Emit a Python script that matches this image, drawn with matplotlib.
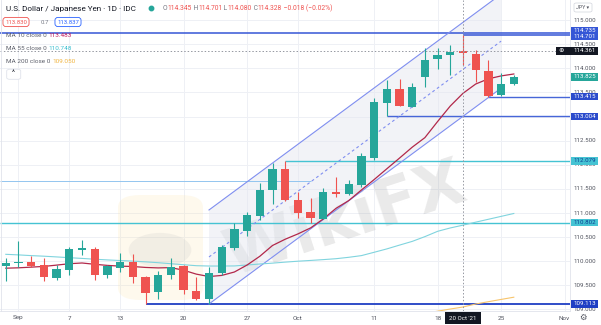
import numpy as np
import matplotlib
matplotlib.use("Agg")
import matplotlib.pyplot as plt
from matplotlib.patches import Rectangle, FancyBboxPatch, Polygon, Circle

plt.rcParams['font.family'] = ['Roboto', 'DejaVu Sans']

# ---------------- data ----------------
dates = ["2021-08-31", "2021-09-01", "2021-09-02", "2021-09-03", "2021-09-06", "2021-09-07",
         "2021-09-08", "2021-09-09", "2021-09-10", "2021-09-13", "2021-09-14", "2021-09-15",
         "2021-09-16", "2021-09-17", "2021-09-20", "2021-09-21", "2021-09-22", "2021-09-23",
         "2021-09-24", "2021-09-27", "2021-09-28", "2021-09-29", "2021-09-30", "2021-10-01",
         "2021-10-04", "2021-10-05", "2021-10-06", "2021-10-07", "2021-10-08", "2021-10-11",
         "2021-10-12", "2021-10-13", "2021-10-14", "2021-10-15", "2021-10-18", "2021-10-19",
         "2021-10-20", "2021-10-21", "2021-10-22", "2021-10-25", "2021-10-26"]
opens = [109.900, 109.956, 109.990, 109.915, 109.651, 109.817, 110.236, 110.253, 109.714, 109.853,
         109.990, 109.678, 109.361, 109.714, 109.906, 109.382, 109.216, 109.761, 110.280, 110.626,
         110.948, 111.467, 111.913, 111.270, 111.027, 110.886, 111.429, 111.394, 111.581, 112.135,
         113.288, 113.573, 113.205, 113.815, 114.189, 114.284, 114.345, 114.300, 113.952, 113.448,
         113.670]
highs = [110.066, 110.419, 110.108, 110.066, 109.921, 110.301, 110.440, 110.301, 109.921, 110.170,
         110.149, 109.703, 109.797, 110.073, 109.921, 109.678, 109.886, 110.336, 110.786, 111.027,
         111.616, 112.031, 112.079, 111.442, 111.305, 111.512, 111.757, 111.685, 112.238, 113.380,
         113.759, 113.774, 113.703, 114.429, 114.417, 114.485, 114.701, 114.382, 114.174, 113.898,
         113.863]
lows = [109.589, 109.886, 109.886, 109.589, 109.610, 109.714, 110.129, 109.610, 109.651, 109.782,
        109.548, 109.113, 109.216, 109.624, 109.319, 109.195, 109.120, 109.714, 110.232, 110.523,
        110.855, 111.187, 111.259, 110.890, 110.802, 110.869, 111.342, 111.373, 111.539, 112.099,
        113.004, 113.210, 113.189, 113.614, 113.981, 113.863, 114.080, 113.724, 113.415, 113.427,
        113.655]
closes = [109.956, 109.990, 109.906, 109.678, 109.838, 110.253, 110.247, 109.707, 109.900, 109.983,
          109.662, 109.346, 109.714, 109.886, 109.402, 109.216, 109.761, 110.288, 110.668, 110.958,
          111.467, 111.913, 111.280, 110.994, 110.890, 111.429, 111.394, 111.595, 112.189, 113.297,
          113.573, 113.220, 113.608, 114.174, 114.278, 114.346, 114.328, 113.967, 113.427, 113.670,
          113.825]
ma10 = [109.855, 109.863, 109.877, 109.892, 109.919, 109.948, 109.963, 109.936, 109.913, 109.898,
        109.890, 109.871, 109.861, 109.867, 109.813, 109.732, 109.682, 109.705, 109.776, 109.921,
        110.102, 110.326, 110.456, 110.566, 110.691, 110.877, 111.097, 111.257, 111.477, 111.693,
        111.917, 112.139, 112.365, 112.564, 112.898, 113.220, 113.483, 113.676, 113.784, 113.844,
        113.884]
ma55 = [110.143, 110.131, 110.116, 110.104, 110.089, 110.073, 110.058, 110.041, 110.027, 110.014,
        110.002, 109.987, 109.969, 109.948, 109.927, 109.907, 109.900, 109.900, 109.902, 109.921,
        109.942, 109.960, 109.981, 110.000, 110.016, 110.033, 110.052, 110.081, 110.116, 110.185,
        110.255, 110.334, 110.411, 110.510, 110.620, 110.690, 110.748, 110.810, 110.870, 110.930,
        110.990]
ma200_dates = ["2021-10-15", "2021-10-18", "2021-10-19", "2021-10-20", "2021-10-21", "2021-10-22",
               "2021-10-25", "2021-10-26"]
ma200 = [108.920, 108.963, 109.008, 109.050, 109.112, 109.160, 109.207, 109.253]

level_prices = [114.735, 114.701, 113.415, 113.004, 112.079, 111.664, 110.802, 109.113]
level_from = [None, "2021-10-20", "2021-10-22", "2021-10-12", "2021-09-30", None, None, "2021-09-15"]
level_to = [None, None, None, None, None, "2021-10-04", None, None]

channel_dates = ["2021-09-22", "2021-10-25"]
channel_lower = [109.113, 113.590]
channel_width = 1.95

tick_dates = ["2021-09-01", "2021-09-07", "2021-09-13", "2021-09-20", "2021-09-27", "2021-10-01",
              "2021-10-11", "2021-10-18", "2021-10-25", "2021-11-01"]
tick_labels = ["Sep", "7", "13", "20", "27", "Oct", "11", "18", "25", "Nov"]
price_ticks = [109.0, 109.5, 110.0, 110.5, 111.0, 111.5, 112.0, 112.5, 113.0, 113.5, 114.0, 114.5, 115.0]

crosshair_date = "2021-10-20"
crosshair_price = 114.361
quote_boxes = ["113.830", "0.7", "113.837"]

# ---------------- helpers ----------------
ANCHOR = "2021-09-01"
def tx(d):
    return int(np.busday_count(ANCHOR, d))

x = np.array([tx(d) for d in dates])
o = np.array(opens); h = np.array(highs); l = np.array(lows); c = np.array(closes)

W, H = 601, 325
PR, PB = 570, 311
fig = plt.figure(figsize=(W / 100, H / 100), dpi=100)
fig.patch.set_facecolor("white")
ax = fig.add_axes([0, (H - PB) / H, PR / W, PB / H])
ax.set_xlim(-18.5 / 12.7, (PR - 18.5) / 12.7)
ax.set_ylim(108.967, 115.419)
ax.axis("off")

GREEN = "#26a69a"; RED = "#ef5350"
BLUE = "#3556d6"; DBLUE = "#1f3fc4"; CYAN = "#45c3d3"; LBLUE = "#93c5ef"
GRID = "#eef0f5"; TXT = "#50535e"

# grid
for p in price_ticks:
    ax.axhline(p, color=GRID, lw=0.7, zorder=0)
for d in tick_dates:
    ax.axvline(tx(d), color=GRID, lw=0.7, zorder=0)

# watermark
ax.add_patch(FancyBboxPatch((118 / PR, 1 - 300 / PB), 85 / PR, 105 / PB,
                            boxstyle="round,pad=0,rounding_size=0.04",
                            transform=ax.transAxes, facecolor="#fbe3a6", edgecolor="none",
                            alpha=0.2, zorder=0.4))
ax.add_patch(Circle((160 / PR, 1 - 250 / PB), 0.055, transform=ax.transAxes,
                    facecolor="#bdbdbd", alpha=0.18, zorder=0.45))
ax.text(345 / PR, 1 - 220 / PB, "WikiFX", transform=ax.transAxes, fontsize=46,
        fontweight="bold", color="#9e9e9e", alpha=0.22, rotation=18,
        ha="center", va="center", zorder=0.5, family="DejaVu Sans")

# channel
cx0, cx1 = tx(channel_dates[0]), tx(channel_dates[1])
lo0, lo1 = channel_lower
ax.add_patch(Polygon([(cx0, lo0), (cx1, lo1), (cx1, lo1 + channel_width), (cx0, lo0 + channel_width)],
                     closed=True, facecolor="#e3e6ef", alpha=0.45, edgecolor="none", zorder=0.6))
CH = "#7f8ef0"
ax.plot([cx0, cx1], [lo0, lo1], color=CH, lw=0.8, zorder=1.5)
ax.plot([cx0, cx1], [lo0 + channel_width, lo1 + channel_width], color=CH, lw=0.8, zorder=1.5)
ax.plot([cx0, cx1], [lo0 + channel_width / 2, lo1 + channel_width / 2], color=CH, lw=0.8,
        ls=(0, (2.5, 2.5)), zorder=1.5)

# horizontal levels
lvl_style = [(BLUE, 1.1), (BLUE, 1.1), ("#4766d8", 1.0), ("#4766d8", 1.0),
             (CYAN, 1.0), (LBLUE, 0.7), (CYAN, 1.0), (DBLUE, 1.3)]
xl0, xl1 = ax.get_xlim()
for p, f, t, (col, lw) in zip(level_prices, level_from, level_to, lvl_style):
    a = tx(f) if f else xl0
    b = tx(t) if t else xl1
    ax.plot([a, b], [p, p], color=col, lw=lw, zorder=1.2, solid_capstyle="butt")

# moving averages
ax.plot(x, ma55, color="#80d4de", lw=0.8, zorder=2)
ax.plot(x, ma10, color="#b2284a", lw=0.9, zorder=2)
ax.plot([tx(d) for d in ma200_dates], ma200, color="#f7c46c", lw=0.8, zorder=2)

# candles
bw = 0.66
for xi, oi, hi, li, ci in zip(x, o, h, l, c):
    col = GREEN if ci >= oi else RED
    ax.plot([xi, xi], [li, hi], color=col, lw=0.8, zorder=3, solid_capstyle="butt")
    lo_b = min(oi, ci); hgt = max(abs(ci - oi), 0.03)
    ax.add_patch(Rectangle((xi - bw / 2, lo_b), bw, hgt, facecolor=col, edgecolor="none", zorder=3.1))

# crosshair
cxh = tx(crosshair_date)
ax.axvline(cxh, color="#9598a1", lw=0.7, ls=(0, (1.5, 2)), zorder=4)
ax.axhline(crosshair_price, color="#9598a1", lw=0.7, ls=(0, (1.5, 2)), zorder=4)

# ---------------- figure-level decorations ----------------
fig.canvas.draw()
renderer = fig.canvas.get_renderer()

def ypx(p):
    return ax.transData.transform((0, p))[1]   # display px from bottom

def xpx(v):
    return ax.transData.transform((v, 0))[0]

fig.patches.append(Rectangle((PR / W, 0), (W - PR) / W, 1, transform=fig.transFigure,
                             facecolor="white", edgecolor="none", zorder=4))
fig.add_artist(plt.Line2D([PR / W, PR / W], [(H - PB) / H, 1], color="#e0e3eb", lw=0.6, zorder=4.5))
fig.add_artist(plt.Line2D([0, PR / W], [(H - PB) / H, (H - PB) / H], color="#e0e3eb", lw=0.6, zorder=4.5))
fig.add_artist(plt.Line2D([0.8 / W, 0.8 / W], [(H - PB) / H, 1], color="#e0e3eb", lw=0.6, zorder=4.5))

FS = 4.4
for p in price_ticks:
    fig.text(584.3 / W, ypx(p) / H, f"{p:.3f}", color=TXT, fontsize=FS, ha="center", va="center", zorder=5)

labels = [(level_prices[0], BLUE, "white"), (level_prices[1], BLUE, "white"),
          (closes[-1], GREEN, "white"), (level_prices[2], "#2b4bcc", "white"),
          (level_prices[3], "#2b4bcc", "white"), (level_prices[4], CYAN, "#0b3d91"),
          (level_prices[6], CYAN, "#0b3d91"), (level_prices[7], DBLUE, "white")]
ys = [ypx(p) for p, _, _ in labels]
ys[0] += 2.2; ys[1] -= 1.4
for (p, bg, fg), yy in zip(labels, ys):
    fig.patches.append(Rectangle((571 / W, (yy - 3.8) / H), 26.5 / W, 7.6 / H, transform=fig.transFigure,
                                 facecolor=bg, edgecolor="none", zorder=5.5))
    fig.text(584.3 / W, yy / H, f"{p:.3f}", color=fg, fontsize=FS, ha="center", va="center", zorder=6)

yy = ypx(crosshair_price)
fig.patches.append(FancyBboxPatch((556 / W, (yy - 4) / H), 41.5 / W, 8 / H, transform=fig.transFigure,
                                  boxstyle="square,pad=0", facecolor="#131722", edgecolor="none", zorder=5.5))
fig.text(561.5 / W, yy / H, "⊕", color="white", fontsize=4.6, ha="center", va="center", zorder=6,
         family="DejaVu Sans")
fig.text(584.3 / W, yy / H, f"{crosshair_price:.3f}", color="white", fontsize=FS, ha="center",
         va="center", zorder=6)

fig.patches.append(FancyBboxPatch((574 / W, 1 - 12 / H), 18 / W, 9 / H, transform=fig.transFigure,
                                  boxstyle="round,pad=0,rounding_size=0.004", facecolor="white",
                                  edgecolor="#d1d4dc", lw=0.5, zorder=5.5))
fig.text(583 / W, 1 - 7.5 / H, "JPY ▾", color=TXT, fontsize=3.8, ha="center", va="center", zorder=6,
         family=["Roboto", "DejaVu Sans"])

for d, lab in zip(tick_dates, tick_labels):
    fig.text(xpx(tx(d)) / W, 1 - 318 / H, lab, color=TXT, fontsize=4.6, ha="center", va="center",
             zorder=3)
xc = xpx(cxh)
fig.patches.append(Rectangle(((xc - 18) / W, 1 - 324 / H), 36 / W, 12 / H, transform=fig.transFigure,
                             facecolor="#131722", edgecolor="none", zorder=5.5))
fig.text(xc / W, 1 - 318 / H, "20 Oct '21", color="white", fontsize=4.4, ha="center", va="center", zorder=6)
fig.text(583 / W, 1 - 317 / H, "⚙", color="#50535e", fontsize=6, ha="center", va="center", zorder=6,
         family="DejaVu Sans")

# ---------------- legend header ----------------
def chain(parts, x0, y0, fs):
    xx = x0
    for s, col in parts:
        t = fig.text(xx / W, 1 - y0 / H, s, color=col, fontsize=fs, ha="left", va="center", zorder=7)
        bb = t.get_window_extent(renderer)
        xx = bb.x1
    return xx

GRAY = "#787b86"
chain([("U.S. Dollar / Japanese Yen · 1D · IDC", "#131722")], 6, 8.5, 5.9)
fig.add_artist(plt.Line2D([151 / W], [1 - 8 / H], marker="o", ms=3.2, color=GREEN, zorder=7))
k = dates.index(crosshair_date)
chg = closes[k] - closes[k - 1]
pct = chg / closes[k - 1] * 100
chain([("O", GRAY), (f"{opens[k]:.3f}", RED), (" H", GRAY), (f"{highs[k]:.3f}", RED),
       (" L", GRAY), (f"{lows[k]:.3f}", RED), (" C", GRAY), (f"{closes[k]:.3f}", RED),
       (f" {chg:+.3f} ({pct:+.2f}%)".replace("-", "−"), RED)], 163, 8.5, 4.9)

fig.text(16 / W, 1 - 22 / H, quote_boxes[0], color=RED, fontsize=4.3, ha="center", va="center", zorder=7,
         bbox=dict(boxstyle="round,pad=0.35,rounding_size=0.5", facecolor="white", edgecolor=RED, lw=0.6))
fig.text(44.5 / W, 1 - 22 / H, quote_boxes[1], color=GRAY, fontsize=4.3, ha="center", va="center", zorder=7)
fig.text(68 / W, 1 - 22 / H, quote_boxes[2], color="#2962ff", fontsize=4.3, ha="center", va="center", zorder=7,
         bbox=dict(boxstyle="round,pad=0.35,rounding_size=0.5", facecolor="white", edgecolor="#2962ff", lw=0.6))

MA_GRAY = "#5d606b"
chain([("MA 10 close 0 ", MA_GRAY), (f"{ma10[k]:.3f}", "#c2185b")], 6, 35.5, 4.6)
chain([("MA 55 close 0 ", MA_GRAY), (f"{ma55[k]:.3f}", "#3bbfcf")], 6, 48.5, 4.6)
chain([("MA 200 close 0 ", MA_GRAY), (f"{ma200[ma200_dates.index(crosshair_date)]:.3f}", "#f0b440")], 6, 61.5, 4.6)

fig.patches.append(FancyBboxPatch((6.7 / W, 1 - 79.3 / H), 14 / W, 10 / H, transform=fig.transFigure,
                                  boxstyle="round,pad=0,rounding_size=0.005", facecolor="white",
                                  edgecolor="#e0e3eb", lw=0.6, zorder=7))
fig.text(13.7 / W, 1 - 74 / H, "^", color="#131722", fontsize=5, ha="center", va="center", zorder=8)

fig.savefig("out.png", dpi=100, facecolor="white")
